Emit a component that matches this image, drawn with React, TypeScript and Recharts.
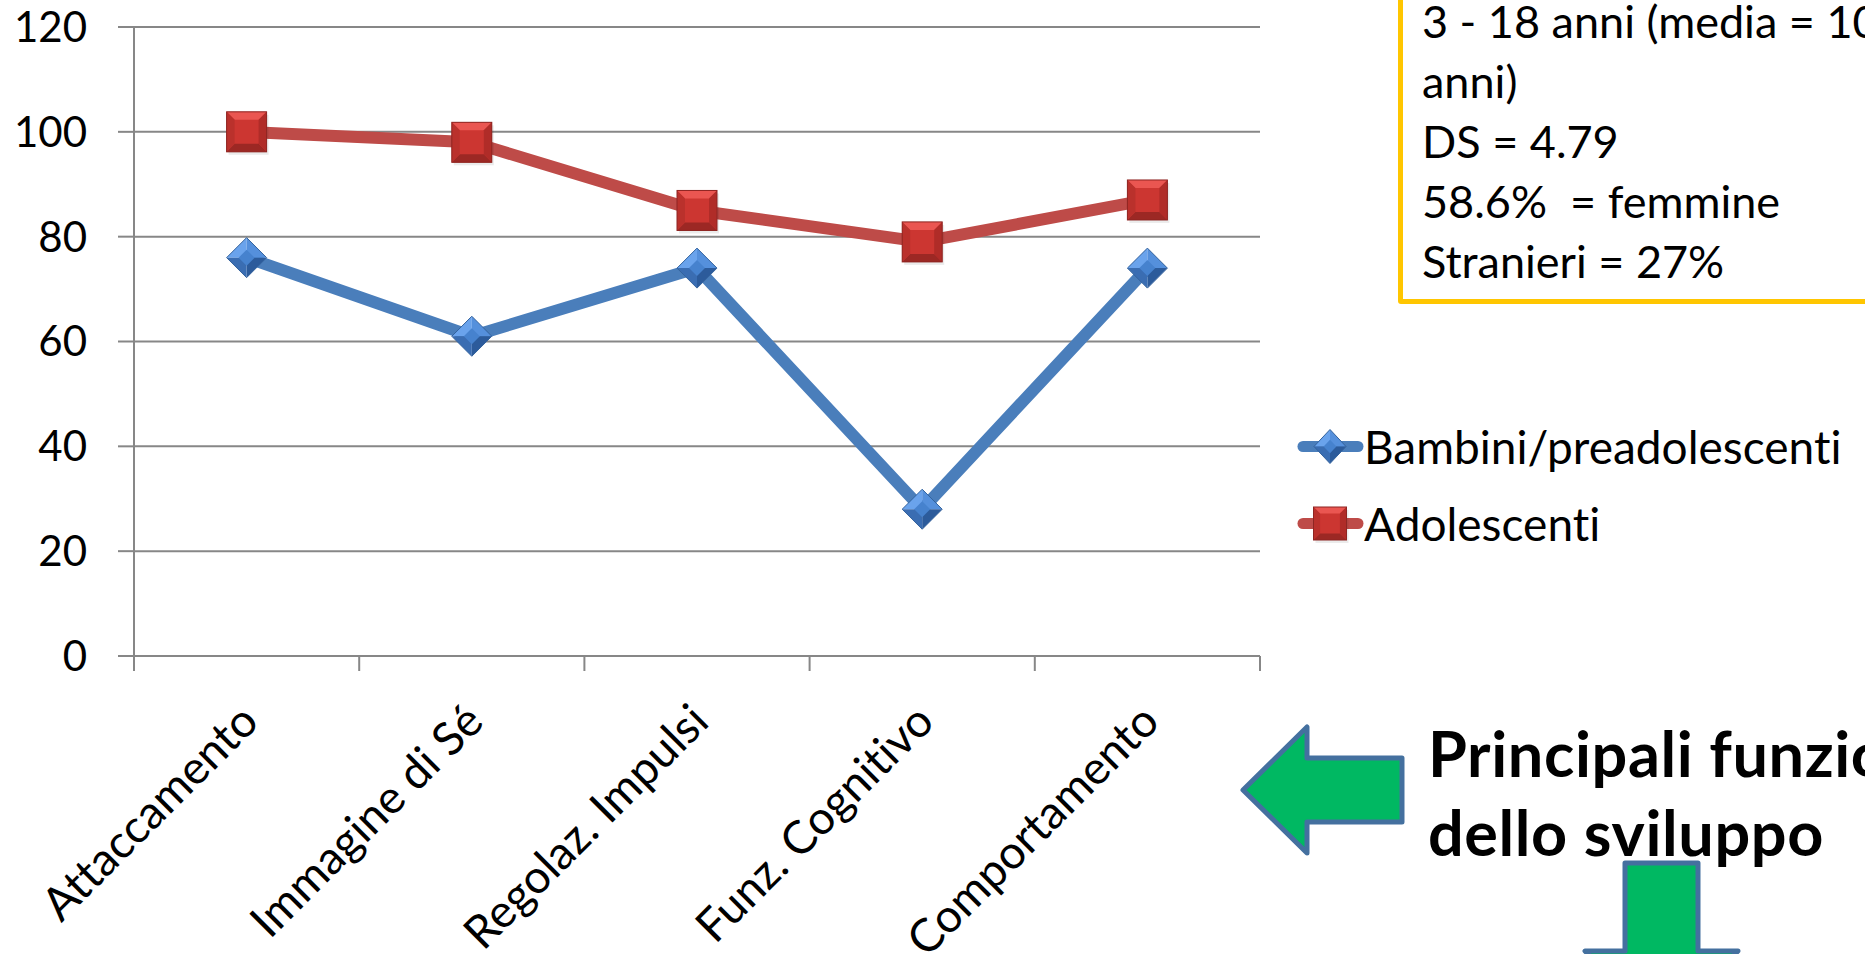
import { LineChart, Line, XAxis, YAxis, CartesianGrid, Legend } from "recharts"

const categories = ["Attaccamento", "Immagine di Sé", "Regolaz. Impulsi", "Funz. Cognitivo", "Comportamento"]
const bambini = [76, 61, 74, 28, 74]
const adolescenti = [100, 98, 85, 79, 87]
const yTicks = [0, 20, 40, 60, 80, 100, 120]
const seriesNames = ["Bambini/preadolescenti", "Adolescenti"]
const boxLines = ["3 - 18 anni (media = 10", "anni)", "DS = 4.79", "58.6%  = femmine", "Stranieri = 27%"]
const calloutLines = ["Principali funzioni", "dello sviluppo"]

const data = categories.map((name, i) => ({ name, bambini: bambini[i], adolescenti: adolescenti[i] }))

const W = 1865
const H = 954
const FONT = "Lato, 'Noto Sans', sans-serif"
const AXIS = "#878787"
const BLUE = "#4A7EBB"
const RED = "#BE4B48"
const MARGIN = { top: 27, right: 605, left: 0, bottom: 0 }
const Y_AXIS_W = 134
const X_AXIS_H = 298
const X_TICK = 15
const HALF_BAND = (W - MARGIN.left - MARGIN.right - Y_AXIS_W) / categories.length / 2
const NO_LIGA = { fontVariantLigatures: "none" as const }

function Diamond({ cx, cy, w = 20, h = 20 }: { cx: number; cy: number; w?: number; h?: number }) {
  const iw = w * 0.4
  const ih = h * 0.4
  return (
    <g>
      <polygon points={`${cx},${cy - h} ${cx},${cy} ${cx - w},${cy}`} fill="#6AA3EC" />
      <polygon points={`${cx},${cy - h} ${cx + w},${cy} ${cx},${cy}`} fill="#5590DC" />
      <polygon points={`${cx + w},${cy} ${cx},${cy + h} ${cx},${cy}`} fill="#2C5B9B" />
      <polygon points={`${cx},${cy + h} ${cx - w},${cy} ${cx},${cy}`} fill="#3A6DB2" />
      <polygon
        points={`${cx},${cy - ih} ${cx + iw},${cy} ${cx},${cy + ih} ${cx - iw},${cy}`}
        fill="#4682CE"
      />
      <polygon
        points={`${cx},${cy - h} ${cx + w},${cy} ${cx},${cy + h} ${cx - w},${cy}`}
        fill="none"
        stroke="#33629D"
        strokeWidth={1}
      />
    </g>
  )
}

function Square({ cx, cy, s = 40 }: { cx: number; cy: number; s?: number }) {
  const h = s / 2
  const b = s * 0.2
  return (
    <g>
      <rect x={cx - h + 2} y={cy - h + 3} width={s} height={s} fill="#000" opacity={0.08} />
      <rect x={cx - h} y={cy - h} width={s} height={s} fill="#CC3631" />
      <polygon
        points={`${cx - h},${cy - h} ${cx + h},${cy - h} ${cx + h - b},${cy - h + b} ${cx - h + b},${cy - h + b}`}
        fill="#EA5651"
      />
      <polygon
        points={`${cx - h},${cy + h} ${cx + h},${cy + h} ${cx + h - b},${cy + h - b} ${cx - h + b},${cy + h - b}`}
        fill="#9C2824"
      />
      <polygon
        points={`${cx - h},${cy - h} ${cx - h + b},${cy - h + b} ${cx - h + b},${cy + h - b} ${cx - h},${cy + h}`}
        fill="#BA312C"
      />
      <polygon
        points={`${cx + h},${cy - h} ${cx + h - b},${cy - h + b} ${cx + h - b},${cy + h - b} ${cx + h},${cy + h}`}
        fill="#B02C28"
      />
      <rect x={cx - h} y={cy - h} width={s} height={s} fill="none" stroke="#8E2522" strokeWidth={1} />
    </g>
  )
}

const CategoryTick = (props: any) => {
  const { x, y, payload, index } = props
  const axisY = y - X_TICK
  const tx = x + 14
  const ty = axisY + 68
  return (
    <g>
      <line x1={x - HALF_BAND} x2={x - HALF_BAND} y1={axisY} y2={y} stroke={AXIS} strokeWidth={2} />
      {index === categories.length - 1 && (
        <line x1={x + HALF_BAND} x2={x + HALF_BAND} y1={axisY} y2={y} stroke={AXIS} strokeWidth={2} />
      )}
      <text
        x={tx}
        y={ty}
        transform={`rotate(-45 ${tx} ${ty})`}
        textAnchor="end"
        fontSize={46}
        fontFamily={FONT}
        fill="#000"
        style={NO_LIGA}
      >
        {payload.value}
      </text>
    </g>
  )
}

const renderLegend = (props: any) => {
  const payload = props.payload ?? []
  const items = seriesNames
    .map((n) => payload.find((p: any) => p.value === n))
    .filter(Boolean)
  return (
    <div style={{ fontFamily: FONT, fontSize: 46, color: "#000", ...NO_LIGA }}>
      {items.map((entry: any) => (
        <div key={entry.value} style={{ display: "flex", alignItems: "center", height: 77 }}>
          <svg width={67} height={77} style={{ display: "block" }}>
            <line x1={6} x2={61} y1={38.5} y2={38.5} stroke={entry.color} strokeWidth={11} strokeLinecap="round" />
            {entry.value === seriesNames[0] ? (
              <Diamond cx={33} cy={38.5} w={16} h={17} />
            ) : (
              <Square cx={33} cy={38.5} s={33} />
            )}
          </svg>
          <span style={{ whiteSpace: "nowrap" }}>{entry.value}</span>
        </div>
      ))}
    </div>
  )
}

export default function App() {
  return (
    <div
      style={{
        position: "fixed",
        left: 0,
        top: 0,
        width: W,
        height: H,
        overflow: "hidden",
        background: "#fff",
        fontFamily: FONT,
        ...NO_LIGA,
      }}
    >
      <div style={{ position: "absolute", left: 0, top: 0 }}>
        <LineChart width={W} height={H} data={data} margin={MARGIN}>
          <CartesianGrid vertical={false} stroke={AXIS} strokeWidth={2} />
          <XAxis
            dataKey="name"
            scale="band"
            interval={0}
            height={X_AXIS_H}
            tickSize={X_TICK}
            tickMargin={0}
            tickLine={false}
            axisLine={{ stroke: AXIS, strokeWidth: 2 }}
            tick={<CategoryTick />}
          />
          <YAxis
            width={Y_AXIS_W}
            domain={[0, 120]}
            ticks={yTicks}
            interval={0}
            tickSize={16}
            tickMargin={31}
            axisLine={{ stroke: AXIS, strokeWidth: 2 }}
            tickLine={{ stroke: AXIS, strokeWidth: 2 }}
            tick={{ fontSize: 42, fill: "#000", fontFamily: FONT }}
          />
          <Legend
            layout="horizontal"
            verticalAlign="middle"
            align="center"
            content={renderLegend}
            wrapperStyle={{ left: 1297, top: 408, width: 560, height: 154 }}
          />
          <Line
            name={seriesNames[0]}
            dataKey="bambini"
            stroke={BLUE}
            strokeWidth={12}
            strokeLinejoin="round"
            dot={(p: any) => <Diamond key={`b${p.index}`} cx={p.cx} cy={p.cy} />}
            activeDot={false}
            isAnimationActive={false}
          />
          <Line
            name={seriesNames[1]}
            dataKey="adolescenti"
            stroke={RED}
            strokeWidth={12}
            strokeLinejoin="round"
            dot={(p: any) => <Square key={`a${p.index}`} cx={p.cx} cy={p.cy} />}
            activeDot={false}
            isAnimationActive={false}
          />
        </LineChart>
      </div>

      <div
        style={{
          position: "absolute",
          left: 1398,
          top: -20,
          width: 600,
          height: 324,
          boxSizing: "border-box",
          border: "5px solid #FFC600",
          borderRadius: 3,
          padding: "6px 0 0 19px",
          fontSize: 45,
          lineHeight: "60px",
          whiteSpace: "pre",
          color: "#000",
        }}
      >
        {boxLines.map((t) => (
          <div key={t}>{t}</div>
        ))}
      </div>

      <div
        style={{
          position: "absolute",
          left: 1428,
          top: 713,
          fontSize: 63,
          letterSpacing: 0.6,
          fontWeight: 700,
          lineHeight: "79px",
          whiteSpace: "nowrap",
          color: "#000",
        }}
      >
        {calloutLines.map((t) => (
          <div key={t}>{t}</div>
        ))}
      </div>

      <svg width={W} height={H} style={{ position: "absolute", left: 0, top: 0, pointerEvents: "none" }}>
        <polygon
          points="1243,790 1307,727 1307,758 1402,758 1402,822 1307,822 1307,853"
          fill="#00B862"
          stroke="#44709F"
          strokeWidth={5}
          strokeLinejoin="round"
        />
        <polygon
          points="1625,863 1698,863 1698,951 1738,951 1661,1030 1585,951 1625,951"
          fill="#00B862"
          stroke="#44709F"
          strokeWidth={5}
          strokeLinejoin="round"
        />
      </svg>
    </div>
  )
}
